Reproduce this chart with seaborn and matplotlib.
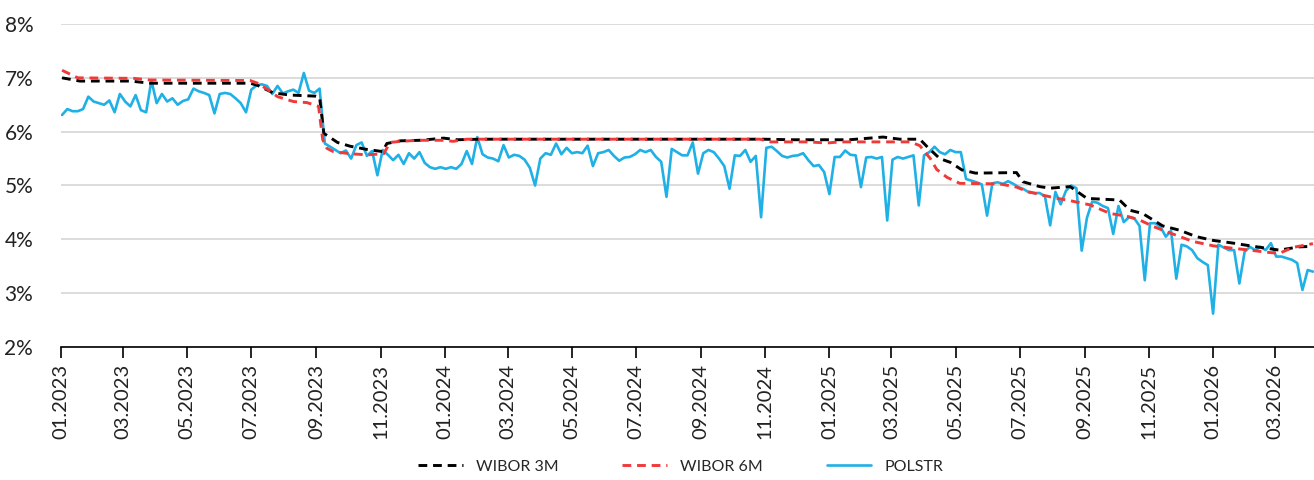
import matplotlib
matplotlib.use("Agg")
import matplotlib.pyplot as plt
import matplotlib.dates as mdates
import matplotlib.ticker as mticker
import seaborn as sns
import pandas as pd

# ---------------- data ----------------
polstr_start = "2023-01-02"
polstr_step = "5D"
polstr = [
    6.31, 6.42, 6.38, 6.38, 6.42, 6.65, 6.56, 6.53, 6.50, 6.58, 6.36, 6.70,
    6.56, 6.47, 6.68, 6.40, 6.36, 6.95, 6.53, 6.70, 6.56, 6.62, 6.50, 6.57,
    6.60, 6.80, 6.75, 6.72, 6.68, 6.34, 6.70, 6.72, 6.70, 6.62, 6.53, 6.36,
    6.78, 6.86, 6.88, 6.85, 6.70, 6.85, 6.71, 6.75, 6.78, 6.72, 7.09, 6.76,
    6.72, 6.80, 5.78, 5.72, 5.66, 5.60, 5.65, 5.50, 5.75, 5.80, 5.55, 5.64,
    5.19, 5.66, 5.57, 5.47, 5.57, 5.40, 5.60, 5.50, 5.62, 5.42, 5.34, 5.31,
    5.34, 5.31, 5.34, 5.31, 5.40, 5.64, 5.40, 5.90, 5.58, 5.52, 5.50, 5.45,
    5.75, 5.52, 5.57, 5.55, 5.48, 5.33, 5.00, 5.50, 5.60, 5.57, 5.78, 5.58,
    5.70, 5.60, 5.62, 5.60, 5.74, 5.36, 5.60, 5.62, 5.66, 5.55, 5.46, 5.52,
    5.53, 5.58, 5.66, 5.62, 5.66, 5.53, 5.44, 4.79, 5.68, 5.62, 5.56, 5.56,
    5.80, 5.22, 5.60, 5.66, 5.62, 5.50, 5.36, 4.94, 5.56, 5.55, 5.66, 5.44,
    5.55, 4.41, 5.70, 5.72, 5.64, 5.55, 5.52, 5.55, 5.56, 5.60, 5.47, 5.36,
    5.38, 5.25, 4.84, 5.53, 5.53, 5.65, 5.57, 5.56, 4.97, 5.52, 5.53, 5.50,
    5.53, 4.35, 5.48, 5.53, 5.50, 5.53, 5.56, 4.63, 5.56, 5.62, 5.72, 5.62,
    5.58, 5.66, 5.62, 5.62, 5.12, 5.09, 5.06, 5.02, 4.44, 5.04, 5.06, 5.03,
    5.08, 5.03, 4.97, 4.93, 4.87, 4.86, 4.86, 4.80, 4.26, 4.88, 4.65, 4.90,
    5.00, 4.95, 3.79, 4.40, 4.70, 4.68, 4.62, 4.58, 4.10, 4.62, 4.32, 4.41,
    4.39, 4.25, 3.24, 4.30, 4.30, 4.23, 4.05, 4.16, 3.27, 3.90, 3.87, 3.80,
    3.65, 3.58, 3.52, 2.62, 3.90, 3.85, 3.80, 3.80, 3.18, 3.77, 3.86, 3.80,
    3.86, 3.80, 3.93, 3.68, 3.68, 3.65, 3.62, 3.56, 3.06, 3.43, 3.40,
]

wibor3m_dates = [
    "2023-01-02", "2023-01-19", "2023-03-08", "2023-03-27", "2023-06-30",
    "2023-07-07", "2023-07-22", "2023-08-07", "2023-08-31", "2023-09-04",
    "2023-09-08", "2023-09-21", "2023-10-03", "2023-10-19", "2023-11-03",
    "2023-11-07", "2023-11-20", "2023-12-09", "2023-12-31", "2024-01-13",
    "2024-02-04", "2024-10-30", "2024-11-25", "2025-01-20", "2025-02-21",
    "2025-03-09", "2025-03-28", "2025-04-04", "2025-04-16", "2025-04-26",
    "2025-05-07", "2025-05-20", "2025-06-28", "2025-07-04", "2025-07-20",
    "2025-07-30", "2025-08-18", "2025-09-03", "2025-10-04", "2025-10-14",
    "2025-10-26", "2025-11-14", "2025-11-30", "2025-12-16", "2026-01-01",
    "2026-01-20", "2026-02-05", "2026-03-05", "2026-03-24", "2026-04-06",
]
wibor3m = [
    7.00, 6.94, 6.94, 6.90, 6.90,
    6.86, 6.72, 6.68, 6.66, 6.64,
    5.97, 5.80, 5.73, 5.67, 5.63,
    5.78, 5.83, 5.84, 5.88, 5.85,
    5.86, 5.86, 5.85, 5.85, 5.90,
    5.86, 5.86, 5.72, 5.50, 5.43,
    5.29, 5.23, 5.24, 5.07, 4.98,
    4.95, 4.98, 4.76, 4.73, 4.54,
    4.48, 4.25, 4.17, 4.05, 3.98,
    3.93, 3.88, 3.80, 3.86, 3.87,
]

wibor6m_dates = [
    "2023-01-02", "2023-01-17", "2023-03-11", "2023-03-27", "2023-06-30",
    "2023-07-07", "2023-07-16", "2023-07-26", "2023-08-10", "2023-08-23",
    "2023-09-03", "2023-09-07", "2023-09-11", "2023-09-17", "2023-10-03",
    "2023-10-19", "2023-11-04", "2023-11-10", "2023-11-20", "2023-12-06",
    "2023-12-31", "2024-01-09", "2024-01-22", "2024-10-27", "2024-11-06",
    "2024-12-11", "2024-12-30", "2025-01-11", "2025-03-19", "2025-03-28",
    "2025-04-07", "2025-04-13", "2025-04-23", "2025-05-05", "2025-06-12",
    "2025-06-28", "2025-07-08", "2025-07-23", "2025-08-06", "2025-08-15",
    "2025-09-06", "2025-09-25", "2025-10-11", "2025-10-23", "2025-11-05",
    "2025-11-18", "2025-12-13", "2026-01-01", "2026-01-17", "2026-02-05",
    "2026-02-21", "2026-03-05", "2026-03-18", "2026-04-06",
]
wibor6m = [
    7.14, 7.00, 6.99, 6.96, 6.95,
    6.90, 6.79, 6.65, 6.56, 6.54,
    6.47, 5.85, 5.69, 5.63, 5.59,
    5.57, 5.59, 5.80, 5.82, 5.84,
    5.84, 5.82, 5.86, 5.86, 5.81,
    5.81, 5.79, 5.81, 5.81, 5.74,
    5.50, 5.30, 5.15, 5.04, 5.03,
    4.97, 4.89, 4.82, 4.76, 4.73,
    4.64, 4.48, 4.43, 4.36, 4.24,
    4.14, 3.96, 3.88, 3.84, 3.80,
    3.76, 3.74, 3.85, 3.92,
]

series_names = ["WIBOR 3M", "WIBOR 6M", "POLSTR"]
y_ticks = [2, 3, 4, 5, 6, 7, 8]
x_start, x_end = "2023-01-01", "2026-04-07"

# ---------------- frames ----------------
df_p = pd.DataFrame({
    "date": pd.date_range(polstr_start, periods=len(polstr), freq=polstr_step),
    "value": polstr,
})
df_3 = pd.DataFrame({"date": pd.to_datetime(wibor3m_dates), "value": wibor3m})
df_6 = pd.DataFrame({"date": pd.to_datetime(wibor6m_dates), "value": wibor6m})

# ---------------- plot ----------------
sns.set_theme(style="white")
plt.rcParams["font.family"] = ["Lato", "DejaVu Sans"]

fig = plt.figure(figsize=(13.14, 4.80), dpi=100)
ax = fig.add_axes([61 / 1314, 1 - 347 / 480, 1 - 61 / 1314, (347 - 24) / 480])

blue = "#1FB0E6"
sns.lineplot(data=df_p, x="date", y="value", ax=ax, color=blue, lw=1.9,
             label=series_names[2], zorder=3)
sns.lineplot(data=df_3, x="date", y="value", ax=ax, color="black", lw=2.1,
             label=series_names[0], zorder=4)
sns.lineplot(data=df_6, x="date", y="value", ax=ax, color="#F03A3A", lw=2.1,
             label=series_names[1], zorder=4)
ax.lines[1].set_linestyle((0, (3, 2)))
ax.lines[2].set_linestyle((0, (3, 2)))

ax.set_ylim(2, 8)
ax.set_yticks(y_ticks)
ax.yaxis.set_major_formatter(mticker.FuncFormatter(lambda v, p: f"{v:.0f}%"))
ax.set_xlim(pd.Timestamp(x_start), pd.Timestamp(x_end))
ax.xaxis.set_major_locator(mdates.MonthLocator(bymonth=[1, 3, 5, 7, 9, 11]))
ax.xaxis.set_major_formatter(mdates.DateFormatter("%m.%Y"))
ax.set_xlabel("")
ax.set_ylabel("")

ax.grid(axis="y", color="#D9D9D9", lw=1.3)
ax.grid(axis="x", visible=False)
ax.set_axisbelow(True)
for s in ["top", "right", "left"]:
    ax.spines[s].set_visible(False)
ax.spines["bottom"].set_color("black")
ax.spines["bottom"].set_linewidth(1.2)
ax.spines["bottom"].set_zorder(5)

ax.tick_params(axis="x", which="major", direction="out", length=8, width=1.2,
               color="black", labelsize=14.5, labelrotation=90, pad=4,
               labelcolor="#222222", bottom=True)
ax.tick_params(axis="y", length=0, labelsize=15, pad=20, labelcolor="#222222")

handles, labels = ax.get_legend_handles_labels()
order = [labels.index(n) for n in series_names]
ax.get_legend().remove()
fig.legend([handles[i] for i in order], [labels[i] for i in order],
           loc="center", bbox_to_anchor=(0.518, 0.028), ncol=3, frameon=False,
           fontsize=11.5, handlelength=2.8, handletextpad=0.8, columnspacing=4.0)

fig.savefig("out.png", dpi=100)
